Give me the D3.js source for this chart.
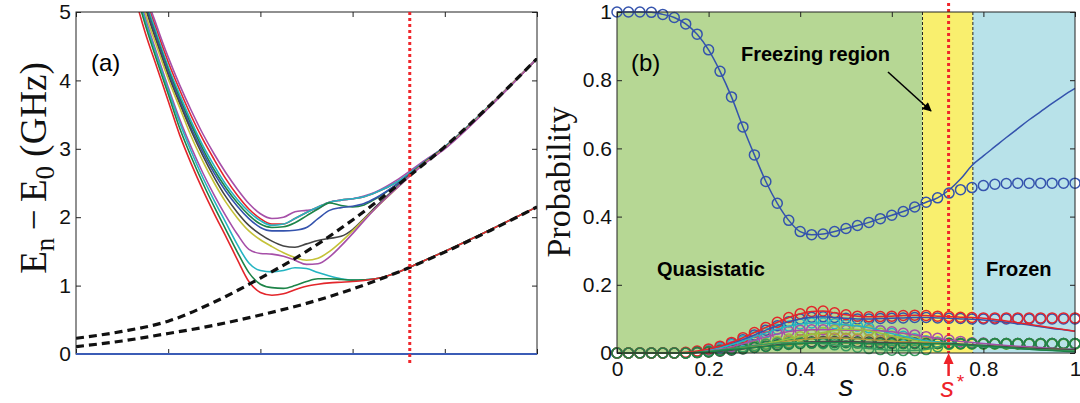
<!DOCTYPE html>
<html>
<head>
<meta charset="utf-8">
<script src="https://cdn.jsdelivr.net/npm/d3@7"></script>
<style>
  body { margin: 0; background: #fff; }
  svg { display: block; }
</style>
</head>
<body>
<svg id="chart" width="1080" height="403"></svg>
<script>
// ---------------- Panel (a): gaps E_n - E_0 versus s ----------------
const sGridA = [0.1, 0.125, 0.15, 0.175, 0.2, 0.225, 0.25, 0.275, 0.3, 0.325, 0.35, 0.375, 0.4, 0.425,
                0.45, 0.475, 0.5, 0.525, 0.55, 0.575, 0.6, 0.625, 0.65, 0.7, 0.75, 0.8, 0.9, 1.0];

const gapRedLow   = [6.0, 5.3, 4.7, 4.2, 3.7, 3.2, 2.78, 2.4, 2.05, 1.72, 1.38, 1.06, 0.9, 0.86,
                     0.88, 0.94, 0.99, 1.02, 1.04, 1.05, 1.06, 1.075, 1.1, 1.2, 1.35, 1.5, 1.82, 2.15];
const gapGreenLow = [6.1, 5.42, 4.82, 4.3, 3.8, 3.3, 2.88, 2.5, 2.15, 1.82, 1.49, 1.19, 1.02, 0.97,
                     0.96, 1.0, 1.06, 1.1, 1.1, 1.09, 1.08, 1.085, 1.1, 1.2, 1.35, 1.5, 1.82, 2.15];
const gapCyanLow  = [6.15, 5.48, 4.88, 4.36, 3.86, 3.38, 2.96, 2.58, 2.24, 1.92, 1.6, 1.33, 1.22, 1.2,
                     1.22, 1.26, 1.25, 1.19, 1.14, 1.1, 1.08, 1.085, 1.1, 1.2, 1.35, 1.5, 1.82, 2.15];
const gapMagLow   = [6.2, 5.52, 4.92, 4.4, 3.9, 3.43, 3.02, 2.65, 2.32, 2.02, 1.75, 1.53, 1.47, 1.46,
                     1.43, 1.37, 1.31, 1.32, 1.42, 1.58, 1.76, 1.95, 2.13, 2.45, 2.75, 3.0, 3.63, 4.32];
const gapYellow   = [6.5, 5.75, 5.0, 4.5, 4.02, 3.6, 3.18, 2.82, 2.5, 2.22, 1.99, 1.8, 1.67, 1.57,
                     1.48, 1.41, 1.37, 1.4, 1.5, 1.64, 1.8, 1.97, 2.13, 2.45, 2.76, 3.01, 3.64, 4.32];
const gapGray     = [6.55, 5.8, 5.08, 4.56, 4.08, 3.66, 3.26, 2.9, 2.58, 2.3, 2.07, 1.88, 1.75, 1.65,
                     1.58, 1.56, 1.61, 1.66, 1.69, 1.72, 1.82, 1.98, 2.15, 2.47, 2.77, 3.02, 3.64, 4.32];
const gapBlue     = [6.6, 5.85, 5.12, 4.6, 4.12, 3.7, 3.3, 2.95, 2.64, 2.38, 2.16, 1.98, 1.85, 1.8,
                     1.8, 1.81, 1.85, 1.98, 2.1, 2.14, 2.16, 2.2, 2.28, 2.5, 2.77, 3.02, 3.64, 4.32];
const gapGreenUp  = [6.65, 5.9, 5.15, 4.63, 4.16, 3.74, 3.35, 3.0, 2.69, 2.43, 2.21, 2.03, 1.9, 1.85,
                     1.86, 1.92, 2.02, 2.12, 2.21, 2.17, 2.15, 2.18, 2.27, 2.5, 2.77, 3.02, 3.64, 4.32];
const gapRedUp    = [6.75, 6.0, 5.25, 4.74, 4.27, 3.86, 3.48, 3.14, 2.84, 2.56, 2.32, 2.12, 1.98, 1.9,
                     1.9, 1.98, 2.07, 2.15, 2.22, 2.25, 2.27, 2.3, 2.36, 2.53, 2.78, 3.03, 3.65, 4.32];
const gapCyanUp   = [6.7, 5.95, 5.2, 4.68, 4.2, 3.79, 3.4, 3.05, 2.75, 2.48, 2.26, 2.08, 1.95, 1.88,
                     1.9, 1.98, 2.07, 2.15, 2.22, 2.25, 2.27, 2.3, 2.36, 2.53, 2.78, 3.03, 3.65, 4.32];
const gapMagUp    = [6.8, 6.05, 5.3, 4.8, 4.34, 3.93, 3.56, 3.22, 2.92, 2.65, 2.41, 2.2, 2.05, 1.98,
                     2.0, 2.08, 2.1, 2.13, 2.22, 2.25, 2.27, 2.31, 2.37, 2.56, 2.8, 3.03, 3.65, 4.32];

// two lowest gaps of the decoupled (frozen) reference spectrum, drawn dashed
const sGridDash   = [0, 0.1, 0.2, 0.3, 0.4, 0.5, 0.6, 0.7, 0.8, 0.9, 1.0];
const refGapLow   = [0.107, 0.19, 0.30, 0.42, 0.57, 0.74, 0.95, 1.2, 1.49, 1.81, 2.15];
const refGapHigh  = [0.23, 0.33, 0.48, 0.76, 1.11, 1.5, 1.96, 2.48, 3.03, 3.65, 4.32];

const sStar = 0.724;

const gapCurves = [
  { values: gapRedUp,    color: "#e3262b" },
  { values: gapMagUp,    color: "#a64fa8" },
  { values: gapCyanUp,   color: "#24b4c2" },
  { values: gapGreenUp,  color: "#1d8448" },
  { values: gapBlue,     color: "#3453ad" },
  { values: gapGray,     color: "#454545" },
  { values: gapYellow,   color: "#c5c238" },
  { values: gapMagLow,   color: "#a64fa8" },
  { values: gapCyanLow,  color: "#24b4c2" },
  { values: gapGreenLow, color: "#1d8448" },
  { values: gapRedLow,   color: "#e3262b" }
];

// ---------------- Panel (b): occupation probabilities ----------------
const sGridB = [0, 0.025, 0.05, 0.075, 0.1, 0.125, 0.15, 0.175, 0.2, 0.225, 0.25, 0.275, 0.3, 0.325,
                0.35, 0.375, 0.4, 0.425, 0.45, 0.475, 0.5, 0.525, 0.55, 0.575, 0.6, 0.625, 0.65, 0.675,
                0.7, 0.725, 0.75, 0.775, 0.8, 0.825, 0.85, 0.875, 0.9, 0.925, 0.95, 0.975, 1];
// the solid (instantaneous) curves split from the circles from this s onward
const sTail = [0.725, 0.75, 0.775, 0.8, 0.825, 0.85, 0.875, 0.9, 0.925, 0.95, 0.975, 1];

const pGround = [1.0, 1.0, 1.0, 0.999, 0.993, 0.984, 0.965, 0.935, 0.889, 0.826, 0.751, 0.663, 0.581,
                 0.503, 0.439, 0.389, 0.356, 0.347, 0.349, 0.356, 0.365, 0.374, 0.383, 0.394, 0.404,
                 0.415, 0.428, 0.442, 0.455, 0.469, 0.479, 0.485, 0.491, 0.495, 0.497, 0.498, 0.498,
                 0.498, 0.498, 0.498, 0.498];
const pGroundTail = [0.478, 0.51, 0.55, 0.578, 0.605, 0.632, 0.658, 0.684, 0.708, 0.732, 0.755, 0.776];

const pRed = [0, 0, 0, 0, 0, 0, 0.002, 0.006, 0.012, 0.02, 0.031, 0.045, 0.06, 0.075, 0.09, 0.104,
              0.115, 0.122, 0.123, 0.118, 0.112, 0.108, 0.106, 0.107, 0.108, 0.11, 0.111, 0.11, 0.108,
              0.107, 0.105, 0.104, 0.103, 0.103, 0.103, 0.103, 0.103, 0.103, 0.103, 0.103, 0.103];
const pRedTail = [0.107, 0.105, 0.104, 0.102, 0.098, 0.094, 0.089, 0.084, 0.079, 0.074, 0.069, 0.064];

const pBlue = [0, 0, 0, 0, 0, 0, 0, 0.004, 0.009, 0.017, 0.027, 0.039, 0.053, 0.067, 0.08, 0.092,
               0.1, 0.105, 0.106, 0.104, 0.102, 0.1, 0.1, 0.101, 0.102, 0.103, 0.104, 0.104, 0.103,
               0.102, 0.101, 0.1, 0.1, 0.1, 0.1, 0.1, 0.1, 0.1, 0.1, 0.1, 0.1];
const pBlueTail = [0.102, 0.1, 0.099, 0.097, 0.094, 0.09, 0.086, 0.082, 0.077, 0.072, 0.068, 0.064];

const pCyan = [0, 0, 0, 0, 0, 0, 0, 0.003, 0.008, 0.015, 0.024, 0.035, 0.047, 0.059, 0.07, 0.079,
               0.085, 0.088, 0.088, 0.086, 0.083, 0.079, 0.074, 0.066, 0.057, 0.049, 0.042, 0.036,
               0.032, 0.029, 0.028, 0.027, 0.027, 0.027, 0.027, 0.027, 0.027, 0.027, 0.027, 0.027, 0.027];
const pCyanTail = [0.029, 0.027, 0.025, 0.023, 0.021, 0.019, 0.017, 0.015, 0.013, 0.012, 0.011, 0.01];

const pMagenta = [0, 0, 0, 0, 0, 0, 0, 0.002, 0.006, 0.011, 0.018, 0.027, 0.037, 0.047, 0.056, 0.063,
                  0.067, 0.068, 0.068, 0.068, 0.067, 0.067, 0.067, 0.065, 0.062, 0.058, 0.053, 0.048,
                  0.043, 0.038, 0.034, 0.03, 0.029, 0.028, 0.028, 0.028, 0.028, 0.028, 0.028, 0.028, 0.028];
const pMagentaTail = [0.038, 0.034, 0.031, 0.028, 0.025, 0.022, 0.02, 0.018, 0.016, 0.014, 0.012, 0.011];

const pLime = [0, 0, 0, 0, 0, 0, 0, 0.002, 0.004, 0.007, 0.011, 0.016, 0.022, 0.028, 0.034, 0.041,
               0.048, 0.054, 0.06, 0.066, 0.07, 0.069, 0.065, 0.058, 0.05, 0.043, 0.037, 0.032, 0.029,
               0.027, 0.026, 0.026, 0.026, 0.026, 0.026, 0.026, 0.026, 0.026, 0.026, 0.026, 0.026];
const pLimeTail = [0.027, 0.025, 0.023, 0.021, 0.019, 0.017, 0.015, 0.013, 0.012, 0.011, 0.01, 0.009];

const pOlive = [0, 0, 0, 0, 0, 0, 0, 0.002, 0.004, 0.007, 0.011, 0.015, 0.02, 0.025, 0.03, 0.035,
                0.039, 0.042, 0.044, 0.044, 0.043, 0.041, 0.039, 0.037, 0.035, 0.033, 0.031, 0.03,
                0.029, 0.028, 0.028, 0.028, 0.028, 0.028, 0.028, 0.028, 0.028, 0.028, 0.028, 0.028, 0.028];
const pOliveTail = [0.028, 0.026, 0.024, 0.022, 0.02, 0.018, 0.016, 0.014, 0.012, 0.011, 0.01, 0.009];

const pGray = [0, 0, 0, 0, 0, 0, 0, 0.001, 0.003, 0.005, 0.008, 0.012, 0.016, 0.02, 0.024, 0.028,
               0.031, 0.033, 0.034, 0.034, 0.034, 0.033, 0.032, 0.031, 0.03, 0.029, 0.029, 0.028,
               0.028, 0.028, 0.028, 0.028, 0.028, 0.028, 0.028, 0.028, 0.028, 0.028, 0.028, 0.028, 0.028];
const pGrayTail = [0.028, 0.026, 0.024, 0.022, 0.02, 0.018, 0.016, 0.014, 0.013, 0.012, 0.011, 0.01];

const pSeaGreen = [0, 0, 0, 0, 0, 0, 0, 0.002, 0.005, 0.009, 0.013, 0.018, 0.022, 0.026, 0.029, 0.03,
                   0.03, 0.029, 0.027, 0.024, 0.021, 0.017, 0.013, 0.01, 0.008, 0.007, 0.007, 0.01,
                   0.018, 0.025, 0.027, 0.028, 0.028, 0.028, 0.028, 0.028, 0.028, 0.028, 0.028, 0.028, 0.028];
const pSeaGreenTail = [0.025, 0.023, 0.021, 0.019, 0.017, 0.015, 0.013, 0.011, 0.009, 0.008, 0.007, 0.006];

const pDarkGreen = [0, 0, 0, 0, 0, 0, 0, 0.002, 0.004, 0.007, 0.01, 0.013, 0.016, 0.019, 0.022, 0.025,
                    0.027, 0.029, 0.03, 0.03, 0.03, 0.029, 0.028, 0.027, 0.027, 0.027, 0.027, 0.027,
                    0.027, 0.027, 0.027, 0.027, 0.027, 0.027, 0.027, 0.027, 0.027, 0.027, 0.027, 0.027, 0.027];
const pDarkGreenTail = [0.026, 0.024, 0.022, 0.02, 0.018, 0.016, 0.013, 0.011, 0.009, 0.007, 0.005, 0.004];

// regime boundaries in s
const regionBounds = [0, 0.667, 0.777, 1];
const regionColors = ["#b6d794", "#f9ef6e", "#b8e2e9"];

const excitedSeries = [
  { circles: pBlue,      tail: pBlueTail,      color: "#3453ad" },
  { circles: pCyan,      tail: pCyanTail,      color: "#24b4c2" },
  { circles: pMagenta,   tail: pMagentaTail,   color: "#a64fa8" },
  { circles: pLime,      tail: pLimeTail,      color: "#98c23e" },
  { circles: pOlive,     tail: pOliveTail,     color: "#b59a3c" },
  { circles: pGray,      tail: pGrayTail,      color: "#4a4a4a" },
  { circles: pSeaGreen,  tail: pSeaGreenTail,  color: "#3a9c60" },
  { circles: pRed,       tail: pRedTail,       color: "#e3262b" },
  { circles: pDarkGreen, tail: pDarkGreenTail, color: "#1d8448" }
];

// ---------------- drawing ----------------
const svg = d3.select("#chart");
const sansFont = "'Liberation Sans', Arial, Helvetica, sans-serif";
const serifFont = "'Liberation Serif', 'Times New Roman', serif";

const xA = d3.scaleLinear().domain([0, 1]).range([76, 537]);
const yA = d3.scaleLinear().domain([0, 5]).range([354, 12]);
const xB = d3.scaleLinear().domain([0, 1]).range([617, 1075]);
const yB = d3.scaleLinear().domain([0, 1]).range([353, 12]);

const defs = svg.append("defs");
defs.append("clipPath").attr("id", "clipA")
  .append("rect").attr("x", xA(0)).attr("y", yA(5))
  .attr("width", xA(1) - xA(0)).attr("height", yA(0) - yA(5));
defs.append("marker").attr("id", "arrowBlack")
  .attr("viewBox", "0 0 10 10").attr("refX", 9).attr("refY", 5)
  .attr("markerWidth", 12).attr("markerHeight", 9).attr("markerUnits", "userSpaceOnUse")
  .attr("orient", "auto")
  .append("path").attr("d", "M0,0 L10,5 L0,10 Z").attr("fill", "#000");

function zipPts(xs, ys) { return xs.map((s, i) => [s, ys[i]]); }

function frame(g, x, y, yTicks, showX, xTicks) {
  const tickFmt = d3.format("~g");
  const left = d3.axisLeft(y).tickValues(yTicks).tickSizeInner(-5).tickSizeOuter(0)
    .tickPadding(5).tickFormat(tickFmt);
  const right = d3.axisRight(y).tickValues(yTicks).tickSizeInner(-5).tickSizeOuter(0).tickFormat("");
  const bottom = d3.axisBottom(x).tickValues(xTicks).tickSizeInner(-5).tickSizeOuter(0)
    .tickPadding(8).tickFormat(showX ? tickFmt : "");
  const top = d3.axisTop(x).tickValues(xTicks).tickSizeInner(-5).tickSizeOuter(0).tickFormat("");
  const [x0, x1] = x.range();
  const [y0, y1] = y.range();
  const ax = [
    g.append("g").attr("transform", `translate(${x0},0)`).call(left),
    g.append("g").attr("transform", `translate(${x1},0)`).call(right),
    g.append("g").attr("transform", `translate(0,${y0})`).call(bottom),
    g.append("g").attr("transform", `translate(0,${y1})`).call(top)
  ];
  ax.forEach(a => {
    a.select(".domain").remove();
    a.selectAll("line").attr("stroke", "#222").attr("stroke-width", 1);
    a.selectAll("text").attr("font-family", sansFont).attr("font-size", 21).attr("fill", "#111");
  });
  g.append("rect").attr("x", x0).attr("y", y1).attr("width", x1 - x0).attr("height", y0 - y1)
    .attr("fill", "none").attr("stroke", "#222").attr("stroke-width", 1);
}

// ===== panel (a) =====
const gA = svg.append("g");
const plotA = gA.append("g").attr("clip-path", "url(#clipA)");
const lineA = d3.line().x(d => xA(d[0])).y(d => yA(d[1])).curve(d3.curveMonotoneX);

gapCurves.forEach(c => {
  plotA.append("path").datum(zipPts(sGridA, c.values))
    .attr("d", lineA).attr("fill", "none").attr("stroke", c.color).attr("stroke-width", 1.6);
});
[refGapHigh, refGapLow].forEach(vals => {
  plotA.append("path").datum(zipPts(sGridDash, vals))
    .attr("d", lineA).attr("fill", "none").attr("stroke", "#111").attr("stroke-width", 3.2)
    .attr("stroke-dasharray", "8,5");
});

frame(gA, xA, yA, [0, 1, 2, 3, 4, 5], false, [0, 0.2, 0.4, 0.6, 0.8, 1]);

// ground level reference (E_0 - E_0 = 0)
gA.append("path").datum([[0, 0], [1, 0]]).attr("d", d3.line().x(d => xA(d[0])).y(d => yA(d[1])))
  .attr("stroke", "#3b5cb6").attr("stroke-width", 2.2);

gA.append("line").attr("x1", xA(sStar)).attr("x2", xA(sStar))
  .attr("y1", yA(5)).attr("y2", yA(0) + 9)
  .attr("stroke", "#f0262b").attr("stroke-width", 3).attr("stroke-dasharray", "3,3");

gA.append("text").attr("x", 91).attr("y", 71).attr("font-family", sansFont).attr("font-size", 24)
  .text("(a)");

const yLabA = gA.append("text").attr("transform", "translate(46,168) rotate(-90)")
  .attr("text-anchor", "middle").attr("font-family", serifFont).attr("font-size", 37).attr("fill", "#111");
yLabA.append("tspan").text("E");
yLabA.append("tspan").attr("font-size", 27).attr("dy", 8).text("n");
yLabA.append("tspan").attr("dy", -8).text("\u2009\u2212\u2009E");
yLabA.append("tspan").attr("font-size", 27).attr("dy", 8).text("0");
yLabA.append("tspan").attr("dy", -8).text(" (GHz)");

// ===== panel (b) =====
const gB = svg.append("g");
regionColors.forEach((col, i) => {
  gB.append("rect").attr("x", xB(regionBounds[i])).attr("y", yB(1))
    .attr("width", xB(regionBounds[i + 1]) - xB(regionBounds[i]))
    .attr("height", yB(0) - yB(1)).attr("fill", col);
});
[regionBounds[1], regionBounds[2]].forEach(b => {
  gB.append("line").attr("x1", xB(b)).attr("x2", xB(b)).attr("y1", yB(1)).attr("y2", yB(0))
    .attr("stroke", "#222").attr("stroke-width", 1).attr("stroke-dasharray", "3,2");
});

const lineB = d3.line().x(d => xB(d[0])).y(d => yB(d[1])).curve(d3.curveMonotoneX);
function solidPts(circles, tail) {
  const head = zipPts(sGridB.slice(0, 29), circles.slice(0, 29));
  return head.concat(zipPts(sTail, tail));
}

// circle markers of the excited levels
excitedSeries.forEach(ser => {
  gB.append("g").selectAll("circle").data(zipPts(sGridB, ser.circles)).join("circle")
    .attr("cx", d => xB(d[0])).attr("cy", d => yB(d[1])).attr("r", 5)
    .attr("fill", "none").attr("stroke", ser.color).attr("stroke-width", 1.5);
});
// solid curves of the excited levels
excitedSeries.forEach(ser => {
  gB.append("path").datum(solidPts(ser.circles, ser.tail)).attr("d", lineB)
    .attr("fill", "none").attr("stroke", ser.color).attr("stroke-width", 1.5);
});

// ground state
gB.append("path").datum(solidPts(pGround, pGroundTail)).attr("d", lineB)
  .attr("fill", "none").attr("stroke", "#3453ad").attr("stroke-width", 1.5);
gB.append("g").selectAll("circle").data(zipPts(sGridB, pGround)).join("circle")
  .attr("cx", d => xB(d[0])).attr("cy", d => yB(d[1])).attr("r", 5)
  .attr("fill", "none").attr("stroke", "#3453ad").attr("stroke-width", 1.5);

gB.append("line").attr("x1", xB(sStar)).attr("x2", xB(sStar)).attr("y1", 3).attr("y2", yB(0))
  .attr("stroke", "#f0262b").attr("stroke-width", 3).attr("stroke-dasharray", "3,3");

frame(gB, xB, yB, [0, 0.2, 0.4, 0.6, 0.8, 1], true, [0, 0.2, 0.4, 0.6, 0.8, 1]);

gB.append("text").attr("x", 631).attr("y", 71).attr("font-family", sansFont).attr("font-size", 24)
  .text("(b)");
gB.append("text").attr("x", 741).attr("y", 61).attr("font-family", sansFont).attr("font-size", 20)
  .attr("font-weight", "bold").text("Freezing region");
gB.append("line").attr("x1", 888).attr("y1", 72).attr("x2", 931).attr("y2", 111)
  .attr("stroke", "#000").attr("stroke-width", 1.6).attr("marker-end", "url(#arrowBlack)");
gB.append("text").attr("x", 657).attr("y", 276).attr("font-family", sansFont).attr("font-size", 20)
  .attr("font-weight", "bold").text("Quasistatic");
gB.append("text").attr("x", 986).attr("y", 276).attr("font-family", sansFont).attr("font-size", 20)
  .attr("font-weight", "bold").text("Frozen");

gB.append("text").attr("transform", "translate(570,182) rotate(-90)").attr("text-anchor", "middle")
  .attr("font-family", serifFont).attr("font-size", 34).attr("fill", "#111").text("Probability");

gB.append("text").attr("x", xB(0.5)).attr("y", 396).attr("text-anchor", "middle")
  .attr("font-family", sansFont).attr("font-style", "italic").attr("font-size", 30).attr("fill", "#111")
  .text("s");

// s* marker under the axis
gB.append("line").attr("x1", xB(sStar)).attr("x2", xB(sStar)).attr("y1", 376).attr("y2", 363)
  .attr("stroke", "#ee2229").attr("stroke-width", 2.5);
gB.append("path").attr("d", `M${xB(sStar) - 5},364 L${xB(sStar)},353 L${xB(sStar) + 5},364 Z`)
  .attr("fill", "#ee2229");
const sStarLab = gB.append("text").attr("x", xB(sStar) - 8).attr("y", 397)
  .attr("font-family", sansFont).attr("font-style", "italic").attr("font-size", 27).attr("fill", "#ee2229");
sStarLab.append("tspan").text("s");
sStarLab.append("tspan").attr("dy", -9).attr("dx", 2).attr("font-size", 19).text("*");
</script>
</body>
</html>
